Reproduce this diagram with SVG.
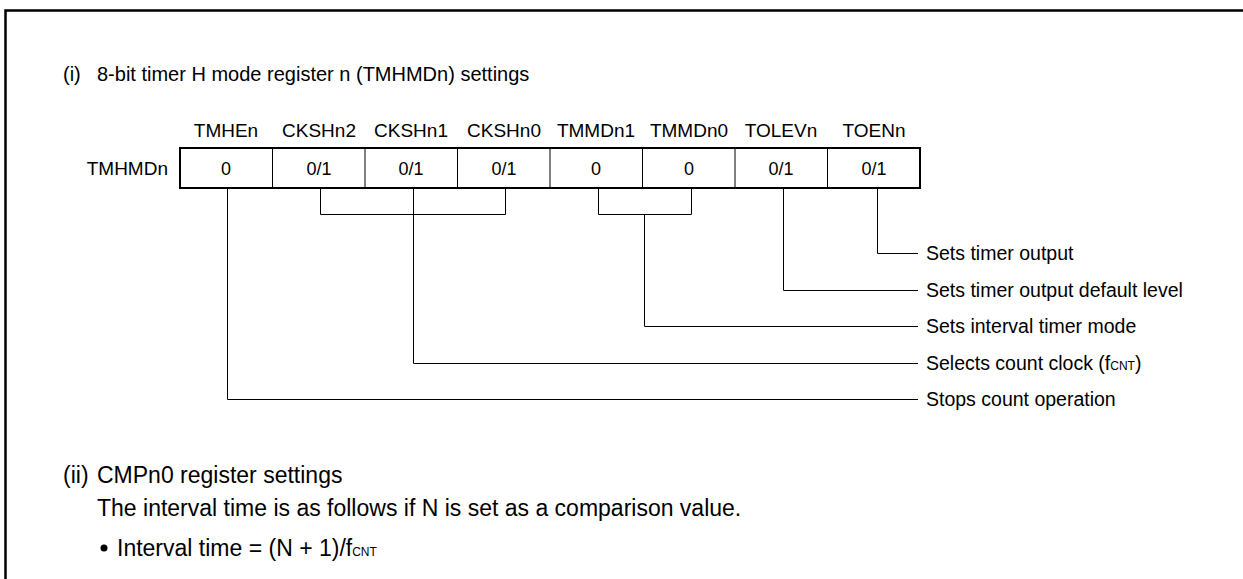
<svg xmlns="http://www.w3.org/2000/svg" width="1243" height="579" viewBox="0 0 1243 579">
<style>
text{font-family:"Liberation Sans",Arial,sans-serif;fill:#000}
.t{font-size:20px}
.s{font-size:23px}
.b{font-size:19px}
.r{font-size:19.5px}
.v{font-size:18px}
.c{text-anchor:middle}
.sub{font-size:12px}
.ln{fill:none;stroke:#000;stroke-width:1}
.fr{fill:none;stroke:#000;stroke-width:2.5}
</style>
<rect width="1243" height="579" fill="#fff"/>
<g id="frame">
<path class="fr" d="M5.5 579V10.5H1243"/>
</g>
<g id="title1">
<text class="t" x="63" y="81">(i)</text>
<text class="t" x="97" y="81">8-bit timer H mode register n (TMHMDn) settings</text>
</g>
<g id="bitnames">
<text class="b c" x="226" y="137">TMHEn</text>
<text class="b c" x="319" y="137">CKSHn2</text>
<text class="b c" x="411" y="137">CKSHn1</text>
<text class="b c" x="504" y="137">CKSHn0</text>
<text class="b c" x="596" y="137">TMMDn1</text>
<text class="b c" x="689" y="137">TMMDn0</text>
<text class="b c" x="781" y="137">TOLEVn</text>
<text class="b c" x="874" y="137">TOENn</text>
</g>
<g id="register">
<text class="b" x="168" y="175" text-anchor="end">TMHMDn</text>
<rect x="180" y="148" width="740" height="40" fill="none" stroke="#000" stroke-width="2"/>
<path class="ln" d="M272.5 148V188M365 148V188M457.5 148V188M550 148V188M642.5 148V188M735 148V188M827.5 148V188"/>
<text class="v c" x="226" y="175">0</text>
<text class="v c" x="319" y="175">0/1</text>
<text class="v c" x="411" y="175">0/1</text>
<text class="v c" x="504" y="175">0/1</text>
<text class="v c" x="596" y="175">0</text>
<text class="v c" x="689" y="175">0</text>
<text class="v c" x="781" y="175">0/1</text>
<text class="v c" x="874" y="175">0/1</text>
</g>
<g id="connectors">
<path class="ln" d="M227.5 189V399.5H918"/>
<path class="ln" d="M320.5 189V214.5H505.5V189M413.5 189V363.5H918"/>
<path class="ln" d="M598.5 189V214.5H691.5V189M644.5 214.5V326.5H918"/>
<path class="ln" d="M783.5 189V290.5H918"/>
<path class="ln" d="M877.5 189V253.5H918"/>
</g>
<g id="labels">
<text class="r" x="926" y="260">Sets timer output</text>
<text class="r" x="926" y="297">Sets timer output default level</text>
<text class="r" x="926" y="333">Sets interval timer mode</text>
<text class="r" x="926" y="370">Selects count clock (f<tspan class="sub">CNT</tspan>)</text>
<text class="r" x="926" y="406">Stops count operation</text>
</g>
<g id="section2">
<text class="s" x="63" y="483">(ii)</text>
<text class="s" x="97" y="483">CMPn0 register settings</text>
<text class="s" x="97" y="516">The interval time is as follows if N is set as a comparison value.</text>
<circle cx="104" cy="548" r="3.5" fill="#000"/>
<text class="s" x="117" y="556">Interval time = (N + 1)/f<tspan class="sub">CNT</tspan></text>
</g>
</svg>
